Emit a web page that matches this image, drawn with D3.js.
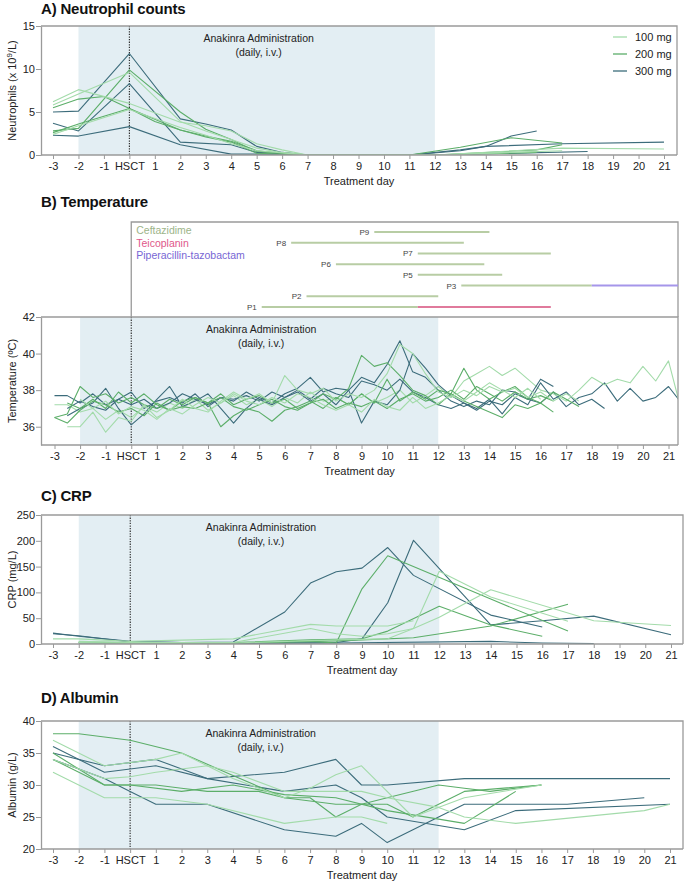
<!DOCTYPE html>
<html>
<head>
<meta charset="utf-8">
<script src="https://cdn.jsdelivr.net/npm/d3@7"></script>
<style>
  body { margin: 0; background: #fff; }
  svg { font-family: "Liberation Sans", Arial, Helvetica, sans-serif; }
</style>
</head>
<body>
<div id="chart"></div>
<script>
// ---- data ----
const dayTicks = [-3, -2, -1, 0, 1, 2, 3, 4, 5, 6, 7, 8, 9, 10, 11, 12, 13, 14, 15, 16, 17, 18, 19, 20, 21];
const dayLabels = ['-3', '-2', '-1', 'HSCT', '1', '2', '3', '4', '5', '6', '7', '8', '9', '10', '11', '12', '13', '14', '15', '16', '17', '18', '19', '20', '21'];
const doseNames = ['100 mg', '200 mg', '300 mg'];
const doseColors = ['#a3dbaa', '#5cae69', '#3c6c7b'];

// neutrophils, x 10^9/L  [day, value]
const neutrophils = [
  { dose: 2, pts: [[-3, 5.0], [-2, 5.1], [0, 11.8], [2, 4.2], [3, 3.6], [4, 2.9], [5, 1.0], [6, 0.3], [7, 0], [11, 0], [13, 0.5], [14, 1.0], [15, 2.2], [16, 2.8]] },
  { dose: 2, pts: [[-3, 3.7], [-2, 2.8], [0, 8.3], [2, 1.5], [4, 1.2], [5, 0.3], [7, 0], [11, 0], [13, 0.6], [14, 1.0], [17, 1.3], [21, 1.5]] },
  { dose: 2, pts: [[-3, 2.3], [-2, 2.2], [0, 3.3], [2, 1.2], [4, 0.1], [5, 0.1], [7, 0], [12, 0], [18, 0.4]] },
  { dose: 1, pts: [[-3, 5.5], [-2, 6.5], [-1, 6.8], [0, 5.4], [1, 3.9], [2, 2.9], [3, 2.2], [4, 1.6], [5, 0.5], [6, 0.2], [7, 0], [11, 0], [13, 0.9], [15, 2.0], [17, 1.4]] },
  { dose: 1, pts: [[-3, 2.8], [-2, 3.1], [0, 9.9], [2, 5.0], [3, 3.0], [4, 1.8], [5, 0.4], [7, 0], [12, 0], [16, 0.6], [17, 1.2]] },
  { dose: 1, pts: [[-3, 2.6], [-2, 3.6], [0, 5.4], [2, 2.9], [3, 2.1], [4, 1.5], [5, 0.2], [7, 0], [12, 0], [16, 0.3]] },
  { dose: 0, pts: [[-3, 6.2], [-2, 7.6], [0, 6.0], [2, 3.8], [3, 3.4], [4, 2.8], [5, 1.3], [6, 0.6], [7, 0], [12, 0], [17, 0.8], [21, 0.7]] },
  { dose: 0, pts: [[-3, 5.8], [-2, 7.1], [0, 9.6], [2, 3.9], [3, 2.8], [4, 1.8], [5, 0.8], [6, 0.3], [7, 0], [12, 0], [16, 0.4]] },
  { dose: 0, pts: [[-3, 2.4], [-2, 3.4], [0, 5.3], [2, 3.2], [3, 2.3], [4, 1.3], [5, 0.5], [7, 0], [12, 0], [15, 0.3], [17, 0.5]] }
];

// temperature, readings every half day from `start`
const tempStep = 0.5;
const temperature = [
  { dose: 2, start: -3, vals: [37.7, 37.7, 37.3, 37.8, 37.2, 37.5, 37.9, 37.0, 37.4, 37.6, 37.3, 37.8, 37.1, 37.6, 37.5, 37.7, 37.4, 37.9, 37.6, 38.0, 37.5, 38.1, 37.8, 37.6, 38.5, 38.3, 38.0, 38.6, 37.9, 37.6, 37.2, 37.0, 37.3, 36.9, 37.4, 37.2, 37.8, 37.5, 37.3, 37.9, 37.1, 37.6, 37.8, 38.4, 37.4, 38.1, 37.4, 37.6, 38.2, 37.3] },
  { dose: 0, start: -3, vals: [37.2, 37.2, 36.8, 37.0, 36.4, 36.9, 36.5, 37.1, 36.8, 37.3, 37.0, 37.5, 36.9, 37.3, 37.7, 37.2, 37.5, 37.1, 37.6, 37.3, 37.9, 37.4, 37.6, 37.2, 37.8, 37.3, 37.6, 38.0, 37.3, 37.7, 38.2, 37.6, 38.5, 38.9, 39.3, 38.8, 39.2, 38.6, 38.0, 37.8, 37.4, 38.0, 38.7, 38.3, 38.6, 38.4, 39.3, 38.5, 39.6, 36.9] },
  { dose: 2, start: -2.5, vals: [36.6, 37.0, 37.3, 38.1, 37.0, 36.1, 36.7, 37.5, 38.2, 37.1, 37.4, 37.8, 37.0, 36.2, 37.0, 37.6, 37.3, 37.8, 38.1, 38.7, 37.9, 38.1, 38.0, 36.2, 37.4, 37.2, 38.0, 40.0, 39.2, 38.3, 37.7, 37.3, 37.0, 37.5, 36.7, 37.6, 37.2, 38.4, 37.5, 37.9, 37.2, 37.5, 37.0] },
  { dose: 2, start: -2.5, vals: [37.0, 37.4, 37.1, 36.9, 37.5, 37.2, 37.5, 37.0, 37.3, 37.8, 37.5, 37.2, 37.6, 37.4, 37.9, 37.5, 37.2, 37.6, 37.9, 37.4, 37.8, 37.2, 38.0, 38.7, 38.4, 39.4, 40.7, 39.0, 38.7, 38.0, 37.4, 37.1, 37.4, 37.2, 38.0, 37.9, 37.5, 38.6, 38.2] },
  { dose: 1, start: -3, vals: [36.5, 36.7, 38.2, 37.6, 37.8, 37.3, 37.6, 37.2, 37.0, 37.5, 37.2, 37.6, 37.3, 37.8, 37.2, 37.5, 37.7, 37.3, 37.5, 37.0, 37.3, 37.8, 37.5, 38.1, 39.9, 39.3, 39.5, 38.8, 38.0, 37.7, 37.2, 37.8, 39.2, 38.0, 37.5, 37.9, 38.2, 37.6, 37.3, 37.9, 37.5, 37.1] },
  { dose: 1, start: -2.5, vals: [37.3, 37.0, 37.5, 37.0, 37.9, 37.3, 37.8, 37.2, 36.9, 37.4, 37.6, 37.3, 36.0, 36.6, 37.0, 36.8, 36.3, 36.9, 37.1, 37.4, 37.0, 37.6, 37.2, 37.8, 37.3, 38.6, 37.4, 37.9, 37.5, 38.0, 37.8, 37.4, 37.1, 36.8, 36.5, 37.2, 37.0, 37.3, 36.8] },
  { dose: 1, start: -3, vals: [36.5, 36.2, 36.9, 37.4, 37.2, 36.8, 37.0, 36.6, 37.3, 36.9, 37.1, 37.0, 37.3, 37.6, 37.1, 36.9, 37.2, 37.5, 37.1, 36.9, 37.3, 37.5, 37.0, 37.3, 37.1, 37.4, 37.0, 37.5, 37.8, 37.4, 37.6, 38.0, 37.5, 38.2, 37.8, 37.4, 37.9, 37.5, 37.7, 37.4] },
  { dose: 0, start: -2.5, vals: [36.0, 36.0, 36.8, 35.7, 36.5, 36.3, 37.2, 36.5, 36.9, 37.5, 37.0, 36.8, 37.4, 37.9, 37.5, 37.8, 37.3, 38.8, 38.0, 37.8, 38.1, 37.4, 37.8, 37.6, 38.0, 38.9, 40.5, 40.0, 38.9, 37.9, 37.6, 38.0, 37.7, 38.2, 37.9, 38.1, 37.6, 37.9, 37.4, 37.8, 37.4] },
  { dose: 0, start: -2, vals: [37.5, 37.0, 37.4, 36.7, 37.1, 36.9, 36.4, 37.0, 36.7, 37.2, 37.6, 37.3, 37.8, 37.4, 37.2, 37.6, 37.3, 37.8, 37.6, 37.2, 36.9, 37.2, 36.8, 37.5, 37.1, 36.9, 37.6, 37.0, 37.3, 37.7, 37.4, 37.9, 38.4, 38.0, 37.6, 38.1, 37.5] }
];

// antibiotic courses (days), rows top to bottom
const abxPatients = ['P9', 'P8', 'P7', 'P6', 'P5', 'P3', 'P2', 'P1'];
const abxNames = ['Ceftazidime', 'Teicoplanin', 'Piperacillin-tazobactam'];
const abxColors = ['#b8cda4', '#e07a9c', '#a596ea'];
const abxTextColors = ['#9db489', '#e0578a', '#7766d4'];
const abxCourses = [
  { patient: 'P9', drug: 0, from: 9.5, to: 14 },
  { patient: 'P8', drug: 0, from: 6.25, to: 13 },
  { patient: 'P7', drug: 0, from: 11.2, to: 16.4 },
  { patient: 'P6', drug: 0, from: 8.0, to: 13.8 },
  { patient: 'P5', drug: 0, from: 11.2, to: 14.5 },
  { patient: 'P3', drug: 0, from: 12.9, to: 18 },
  { patient: 'P3', drug: 2, from: 18, to: 21.4 },
  { patient: 'P2', drug: 0, from: 6.85, to: 12 },
  { patient: 'P1', drug: 0, from: 5.1, to: 11.2 },
  { patient: 'P1', drug: 1, from: 11.2, to: 16.4 }
];

// CRP, mg/L  [day, value]
const crp = [
  { dose: 2, pts: [[-3, 21], [-2, 15], [0, 5], [2, 3], [4, 4], [6, 62], [7, 118], [8, 140], [9, 147], [10, 187], [11, 133], [14, 56], [16, 33]] },
  { dose: 2, pts: [[-3, 20], [-2, 16], [0, 4], [4, 2], [8, 3], [9, 10], [10, 80], [11, 201], [14, 37], [16, 45], [18, 54], [21, 18]] },
  { dose: 2, pts: [[-2, 2], [0, 2], [4, 1], [8, 2], [14, 5], [16, 2], [18, 1]] },
  { dose: 1, pts: [[-2, 3], [0, 3], [4, 2], [7, 5], [8, 2], [9, 107], [10, 171], [14, 87], [17, 25]] },
  { dose: 1, pts: [[-2, 2], [0, 2], [4, 3], [7, 8], [9, 10], [10, 25], [12, 73], [14, 37], [16, 15]] },
  { dose: 1, pts: [[-2, 4], [0, 3], [4, 2], [8, 6], [9, 8], [11, 12], [14, 35], [17, 77]] },
  { dose: 0, pts: [[-3, 10], [-2, 10], [0, 5], [4, 10], [7, 38], [8, 35], [10, 35], [11, 45]] },
  { dose: 0, pts: [[-2, 3], [0, 2], [4, 2], [8, 8], [10, 10], [11, 30], [12, 141], [14, 91], [17, 44]] },
  { dose: 0, pts: [[-2, 5], [0, 3], [4, 3], [7, 30], [8, 20], [9, 15], [10, 20], [11, 30], [12, 52], [14, 105], [18, 45], [21, 36]] }
];

// albumin, g/L  [day, value]
const albumin = [
  { dose: 2, pts: [[-3, 36], [-1, 32], [1, 33], [3, 31], [6, 32], [8, 34], [9, 30], [10, 30], [13, 31], [21, 31]] },
  { dose: 2, pts: [[-3, 34], [-1, 31], [0, 29], [1, 27], [3, 27], [6, 23], [8, 22], [9, 24], [10, 21], [13, 27], [17, 27], [20, 28]] },
  { dose: 2, pts: [[-3, 35], [-1, 33], [1, 34], [3, 31], [6, 29], [8, 30], [9, 28], [10, 25], [13, 23], [15, 26], [21, 27]] },
  { dose: 1, pts: [[-3, 38], [-2, 38], [0, 37], [2, 35], [4, 31.5], [6, 28], [7, 28], [8, 25], [9, 27], [10, 28], [12, 30], [13, 29.5], [14, 29], [16, 30]] },
  { dose: 1, pts: [[-3, 35], [-1, 30], [1, 30], [2, 29.5], [3, 29], [5, 29], [6, 28], [8, 27], [10, 27], [11, 25], [13, 29], [16, 30]] },
  { dose: 1, pts: [[-3, 34], [-1, 30], [0, 30], [2, 29], [4, 30], [6, 28.5], [8, 28], [10, 26], [13, 24], [15, 29]] },
  { dose: 0, pts: [[-3, 37], [-1, 33], [1, 34], [2, 35], [4, 31], [6, 28], [7, 29.5], [8, 31.6], [9, 33], [11, 25], [13, 28], [16, 30]] },
  { dose: 0, pts: [[-3, 34], [-1, 31], [0, 31.3], [1, 32], [3, 33], [4, 32], [6, 29], [8, 29], [9, 29], [10, 28], [12, 26.5], [13, 25], [15, 24], [20, 26], [21, 27]] },
  { dose: 0, pts: [[-3, 32], [-1, 28], [1, 28], [3, 27], [6, 24], [8, 25], [9, 25], [10, 24]] }
];

// ---- drawing ----
const width = 685, height = 884;
const left = 41;
const gray = '#9a9a9a';
const shade = '#e3eef3';
const ink = '#222';

const svg = d3.select('#chart').append('svg')
  .attr('width', width)
  .attr('height', height)
  .style('background', 'white');

function drawPanel(p, idx) {
  const x = d3.scaleLinear().domain([-3, 21]).range(p.xr);
  const y = d3.scaleLinear().domain(p.yDomain).range([p.bottom, p.top]);
  const g = svg.append('g');

  g.append('text')
    .attr('x', left).attr('y', p.titleY)
    .attr('font-size', 15).attr('font-weight', 'bold').attr('fill', '#111')
    .attr('letter-spacing', -0.2)
    .text(p.title);

  g.append('rect')
    .attr('x', x(-2)).attr('y', p.top)
    .attr('width', x(12) - x(-2)).attr('height', p.bottom - p.top)
    .attr('fill', shade);

  g.append('line')
    .attr('x1', x(0)).attr('x2', x(0)).attr('y1', p.top).attr('y2', p.bottom)
    .attr('stroke', ink).attr('stroke-width', 1.1).attr('stroke-dasharray', '1.3,1.3');

  const note = g.append('text')
    .attr('text-anchor', 'middle').attr('font-size', 10.5).attr('fill', ink);
  note.append('tspan').attr('x', x(5) + 2).attr('y', p.top + 15.5).text('Anakinra Administration');
  note.append('tspan').attr('x', x(5) + 2).attr('y', p.top + 29.5).text('(daily, i.v.)');

  const clipId = 'clip' + idx;
  svg.append('clipPath').attr('id', clipId)
    .append('rect').attr('x', left).attr('y', p.top - 2)
    .attr('width', p.right - left).attr('height', p.bottom - p.top + 2);

  const line = d3.line().x(d => x(d[0])).y(d => y(d[1]));
  g.append('g').attr('clip-path', `url(#${clipId})`)
    .selectAll('path')
    .data(p.series)
    .enter()
    .append('path')
    .attr('d', d => line(d.pts))
    .attr('fill', 'none')
    .attr('stroke', d => doseColors[d.dose])
    .attr('stroke-width', 1.1)
    .attr('stroke-linejoin', 'round');

  // frame
  g.append('path')
    .attr('d', `M${left},${p.top}H${p.right}V${p.bottom}`)
    .attr('fill', 'none').attr('stroke', gray).attr('stroke-width', 1.3);

  // x axis
  const xAxis = g.append('g')
    .attr('transform', `translate(0,${p.bottom})`)
    .call(d3.axisBottom(x).tickValues(dayTicks).tickFormat((d, i) => dayLabels[i]).tickSize(4).tickSizeOuter(0));
  xAxis.select('.domain').remove();
  xAxis.append('line').attr('x1', left).attr('x2', p.right).attr('stroke', gray).attr('stroke-width', 1.3);
  xAxis.selectAll('.tick line').attr('stroke', gray);
  xAxis.selectAll('.tick text').attr('fill', ink).attr('font-size', 11).attr('y', 7)
    .attr('font-family', '"Liberation Sans", Arial, sans-serif');

  g.append('text')
    .attr('x', (left + p.right) / 2).attr('y', p.bottom + 30)
    .attr('text-anchor', 'middle').attr('font-size', 11).attr('fill', ink)
    .text('Treatment day');

  // y axis
  const yAxis = g.append('g')
    .attr('transform', `translate(${left},0)`)
    .call(d3.axisLeft(y).tickValues(p.yTicks).tickFormat(d3.format('d')).tickSize(5).tickSizeOuter(0));
  yAxis.select('.domain').attr('stroke', gray).attr('stroke-width', 1.3);
  yAxis.selectAll('.tick line').attr('stroke', gray);
  yAxis.selectAll('.tick text').attr('fill', ink).attr('font-size', 11).attr('x', -6)
    .attr('font-family', '"Liberation Sans", Arial, sans-serif');

  const yl = g.append('text')
    .attr('transform', `translate(16,${(p.top + p.bottom) / 2}) rotate(-90)`)
    .attr('text-anchor', 'middle').attr('font-size', 11).attr('fill', ink);
  p.yLabel(yl);

  return { x, y, g };
}

// A) neutrophils
const pa = drawPanel({
  title: 'A) Neutrophil counts', titleY: 14,
  top: 26, bottom: 155, right: 677, xr: [53, 664],
  yDomain: [0, 15], yTicks: [0, 5, 10, 15],
  series: neutrophils,
  yLabel: t => {
    t.append('tspan').text('Neutrophils (x 10');
    t.append('tspan').attr('dy', -4).attr('font-size', 8).text('9');
    t.append('tspan').attr('dy', 4).text('/L)');
  }
}, 0);

const legend = pa.g.append('g')
  .selectAll('g')
  .data(doseNames)
  .enter()
  .append('g')
  .attr('transform', (d, i) => `translate(613,${37 + i * 17})`);
legend.append('line').attr('x1', 0).attr('x2', 14)
  .attr('stroke', (d, i) => doseColors[i]).attr('stroke-width', 1.3);
legend.append('text').attr('x', 22).attr('y', 4)
  .attr('font-size', 11).attr('fill', ink).text(d => d);

// B) temperature
const tempSeries = temperature.map(t => ({
  dose: t.dose,
  pts: t.vals.map((v, i) => [t.start + i * tempStep, v])
}));
const pb = drawPanel({
  title: 'B) Temperature', titleY: 207,
  top: 317, bottom: 445, right: 678, xr: [54.5, 668.5],
  yDomain: [35, 42], yTicks: [36, 38, 40, 42],
  series: tempSeries,
  yLabel: t => t.text('Temperature (ºC)')
}, 1);

// antibiotic box above temperature
const bx = pb.x;
const boxTop = 222, boxBottom = 317;
pb.g.append('path')
  .attr('d', `M${bx(0)},${boxBottom}V${boxTop}H678V${boxBottom}`)
  .attr('fill', 'none').attr('stroke', gray).attr('stroke-width', 1.3);

const rowY = d3.scalePoint().domain(abxPatients).range([232, 307]);

pb.g.append('g').selectAll('line')
  .data(abxCourses)
  .enter()
  .append('line')
  .attr('x1', d => bx(d.from)).attr('x2', d => Math.min(bx(d.to), 678))
  .attr('y1', d => rowY(d.patient)).attr('y2', d => rowY(d.patient))
  .attr('stroke', d => abxColors[d.drug]).attr('stroke-width', 2);

pb.g.append('g').selectAll('text')
  .data(abxPatients)
  .enter()
  .append('text')
  .attr('x', d => bx(d3.min(abxCourses.filter(c => c.patient === d), c => c.from)) - 5)
  .attr('y', d => rowY(d) + 3)
  .attr('text-anchor', 'end').attr('font-size', 8).attr('fill', '#444')
  .text(d => d);

pb.g.append('g').selectAll('text')
  .data(abxNames)
  .enter()
  .append('text')
  .attr('x', bx(0) + 5).attr('y', (d, i) => 234 + i * 12.5)
  .attr('font-size', 10.5)
  .attr('fill', (d, i) => abxTextColors[i])
  .text(d => d);

// C) CRP
drawPanel({
  title: 'C) CRP', titleY: 501,
  top: 515, bottom: 644, right: 683, xr: [53, 671],
  yDomain: [0, 250], yTicks: [0, 50, 100, 150, 200, 250],
  series: crp,
  yLabel: t => t.text('CRP (mg/L)')
}, 2);

// D) albumin
drawPanel({
  title: 'D) Albumin', titleY: 703,
  top: 721, bottom: 849, right: 683, xr: [53, 670],
  yDomain: [20, 40], yTicks: [20, 25, 30, 35, 40],
  series: albumin,
  yLabel: t => t.text('Albumin (g/L)')
}, 3);
</script>
</body>
</html>
